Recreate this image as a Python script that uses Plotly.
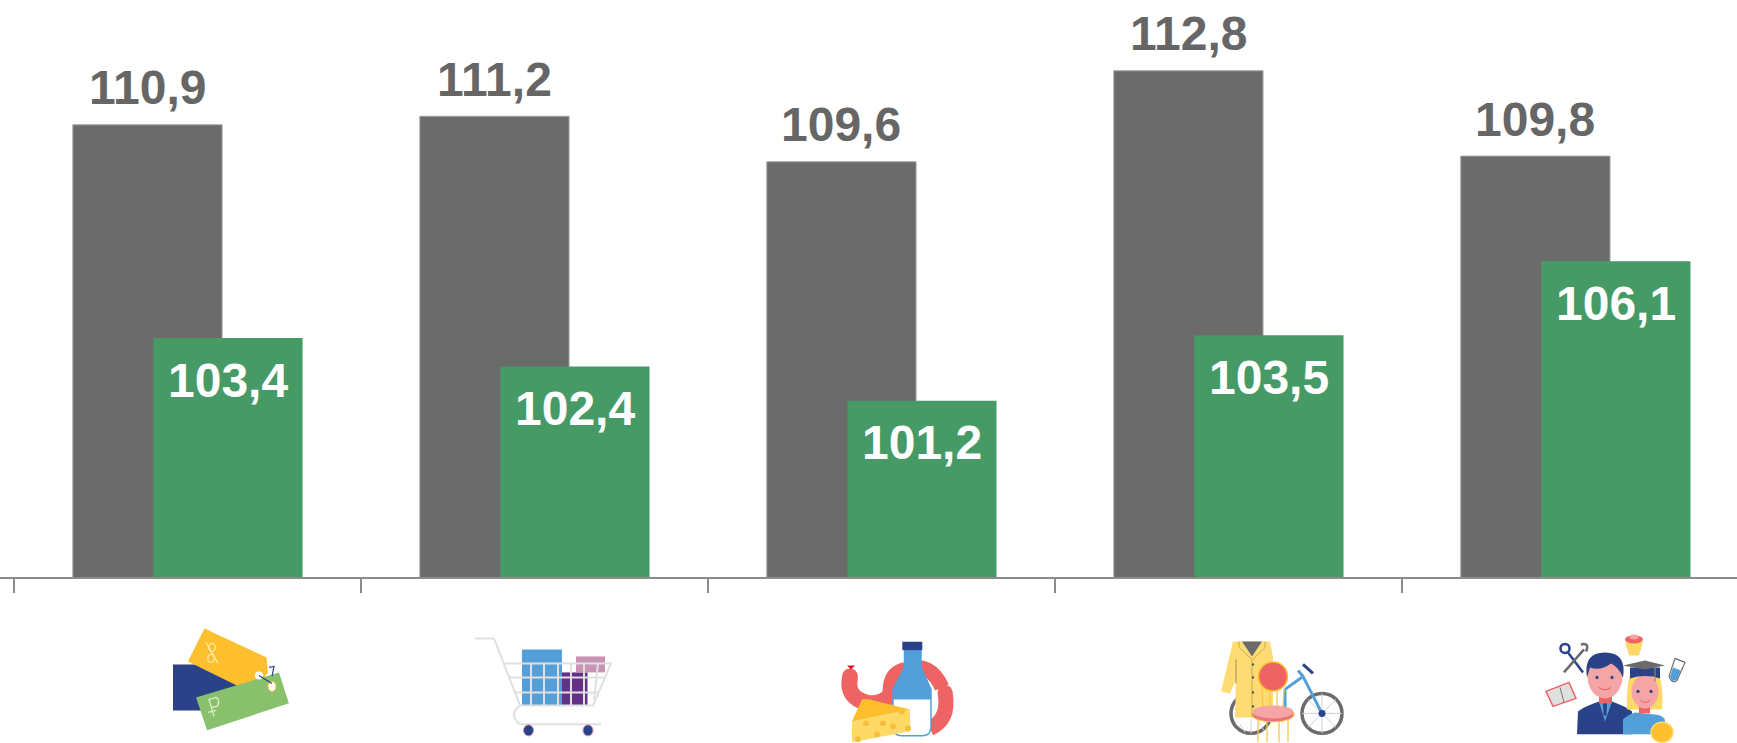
import plotly.graph_objects as go

# ---------- data ----------
categories = ["Всего", "Товары", "Продукты", "Непродовольственные", "Услуги"]
grey_values = [110.9, 111.2, 109.6, 112.8, 109.8]
green_values = [103.4, 102.4, 101.2, 103.5, 106.1]

# ---------- styling ----------
GREY = "#6B6B6B"
GREEN = "#459A66"
LABEL_GREY = "#666666"
W, H = 1737, 743
AXIS_Y = 577.5
FONT = "Liberation Sans, Arial, sans-serif"


def fmt(v):
    return f"{v:.1f}".replace(".", ",")


fig = go.Figure()
fig.add_bar(x=categories, y=grey_values, name="grey", offset=-0.33, width=0.43,
            marker=dict(color=GREY, line=dict(color="#A0A0A0", width=1)))
fig.add_bar(x=categories, y=green_values, name="green", offset=-0.098, width=0.43,
            marker=dict(color=GREEN, line=dict(width=0)))

for i, v in enumerate(grey_values):
    fig.add_annotation(x=i - 0.115, y=v, text=f"<b>{fmt(v)}</b>", showarrow=False, yshift=37,
                       font=dict(family=FONT, size=48, color=LABEL_GREY))
for i, v in enumerate(green_values):
    fig.add_annotation(x=i + 0.117, y=v, text=f"<b>{fmt(v)}</b>", showarrow=False, yshift=-42,
                       font=dict(family=FONT, size=48, color="white"))


# ---------- icon helpers: decorative pictograms, in window pixels ----------
def _x(x):
    return x / W


def _y(y):
    return (AXIS_Y - y) / AXIS_Y


shapes = []


def path(d, fill=None, line=None, width=0):
    out, idx = [], 0
    for tok in d.split():
        if tok.isalpha():
            out.append(tok)
        else:
            val = float(tok)
            out.append(f"{_x(val) if idx % 2 == 0 else _y(val):.5f}")
            idx += 1
    shapes.append(dict(type="path", xref="paper", yref="paper", path=" ".join(out),
                       fillcolor=fill or "rgba(0,0,0,0)",
                       line=dict(color=line or "rgba(0,0,0,0)", width=width)))


def oval(cx, cy, rx, ry, fill=None, line=None, width=0):
    shapes.append(dict(type="circle", xref="paper", yref="paper",
                       x0=_x(cx - rx), x1=_x(cx + rx), y0=_y(cy + ry), y1=_y(cy - ry),
                       fillcolor=fill or "rgba(0,0,0,0)",
                       line=dict(color=line or "rgba(0,0,0,0)", width=width)))


NAVY = "#2A4288"
BLUE = "#529FD9"
YEL = "#FDBF2D"
LYEL = "#FFDC73"
RED = "#EE6363"
PINK = "#F5A5A5"
LGREEN = "#88C06C"
LGREY = "#E0E0E0"
DGREY = "#6B6B6B"

# icon 1: price tags
path("M 173 665 L 241 665 L 241 711 L 173 711 Z", NAVY)
path("M 204.5 629 L 266.5 658 L 268 673 L 257 687 L 249 692 L 188 662 Z", YEL)
path("M 198 699 L 278 675 L 287 703 L 208 729 Z", LGREEN, LGREEN, 3)
oval(259, 676, 4, 4, "white")
oval(272, 687, 4, 5, "white", YEL, 1)
path("M 259 676 L 272 684 M 269 668 L 274 667 L 272 677", None, NAVY, 1.2)
path("M 206 643 L 218 664", None, "#FFE9A8", 1.3)
oval(212, 648, 3.2, 4, None, "#FFE9A8", 1.3)
oval(211, 659, 3.2, 4, None, "#FFE9A8", 1.3)
path("M 214 717 L 209 700 L 216 698 Q 221 701 217 707 L 211 708 M 208 713 L 216 711", None, "#DDEFD2", 1.3)

# icon 2: shopping cart
path("M 522 650 L 562 650 L 562 706 L 522 706 Z", BLUE)
path("M 562 673 L 587.5 673 L 587.5 706 L 562 706 Z", "#653088")
path("M 576 657 L 605 657 L 605 673 L 576 673 Z", "#C893B4")
path("M 475 639 L 494 639 L 520 706 L 593 706 L 611 664 L 504 664 "
     "M 510 678 L 605 678 M 516 693 L 599 693 "
     "M 531 664 L 531 706 M 544 664 L 544 706 M 558 664 L 558 706 "
     "M 571 664 L 571 706 M 584 664 L 584 706 M 598 664 L 594 700 "
     "M 520 706 Q 508 715 520 725 L 601 725", None, LGREY, 2)
oval(528.5, 731, 5, 5.5, NAVY, "#C893B4", 1)
oval(588, 731, 5, 5.5, NAVY, "#C893B4", 1)

# icon 3: sausage, milk, cheese
path("M 890 692 Q 890 672 907 670 Q 930 662 942 688", None, RED, 15)
path("M 945 693 Q 950 720 930 729", None, RED, 15)
oval(945, 693, 7.5, 7.5, RED)
path("M 850 678 Q 846 698 866 703 Q 878 706 888 698", None, RED, 16)
oval(850, 677, 8, 8, RED)
oval(888, 698, 8, 8, RED)
path("M 847 666 L 855 666 L 851 670 Z", "#E0102A")
path("M 904.5 650 L 921 650 L 921 668 L 931 690 L 931 728 Q 931 736.5 922 736.5 L 902 736.5 "
     "Q 893 736.5 893 728 L 893 690 L 904.5 668 Z", "white", BLUE, 1.5)
path("M 904.5 650 L 921 650 L 921 668 L 931 690 L 931 700 L 893 700 L 893 690 L 904.5 668 Z", BLUE)
path("M 902.3 642.3 L 922.3 642.3 L 922.3 650.7 L 902.3 650.7 Z", NAVY)
path("M 852 722 L 910 710 L 910 732 L 852 743 Z", "#FFD966")
path("M 862 700 Q 865 699 870 700 L 910 710 L 852 722 Z", YEL)
for cx, cy in [(866, 724), (883, 724), (893, 727), (877, 735), (902, 712), (858, 740), (908, 729)]:
    oval(cx, cy, 3, 3, "#F5BE3C")

# icon 4: coat, bicycle, chair
oval(1251, 714, 20, 20, None, DGREY, 3.5)
oval(1322, 714, 20, 20, None, DGREY, 3.5)
path("M 1322 694 L 1322 734 M 1302 714 L 1342 714 M 1308 700 L 1336 728 M 1336 700 L 1308 728", None, "#D0D0D0", 1)
path("M 1240 725 L 1245 733 M 1251 720 L 1251 734 M 1258 722 L 1264 731", None, "#D0D0D0", 1)
path("M 1233 642 L 1270 642 L 1273 658 L 1273 718 L 1235 718 L 1236 680 L 1230 694 L 1221 692 Z", LYEL)
path("M 1242 642 L 1262 642 L 1252 657 Z", DGREY)
path("M 1239 642 L 1239 648 L 1252 660 L 1252 718 M 1265 642 L 1265 648 L 1253 660", None, "#C9A94F", 1)
path("M 1236 660 L 1236 684", None, "#A89A60", 1.2)
for by in [665, 678, 693, 707]:
    oval(1253, by, 1.2, 1.2, "#555555")
path("M 1322 714 L 1303 677 L 1285 690 M 1285 690 L 1285 720 M 1303 677 L 1298 671", None, BLUE, 3)
path("M 1303 665 L 1313 674", None, NAVY, 3)
oval(1322, 714, 3.5, 3.5, NAVY)
path("M 1258 718 L 1258 743 M 1267 718 L 1267 743 M 1279 718 L 1279 743 M 1288 718 L 1288 743 "
     "M 1262 690 L 1263 708 M 1270 692 L 1270 708 M 1277 692 L 1277 708 M 1284 690 L 1283 708",
     None, "#F5C842", 1.3)
oval(1273, 677, 14.5, 14.5, RED, YEL, 1.5)
oval(1273, 715, 21, 7.5, "#E8767A", YEL, 1)
oval(1273, 712.5, 20.5, 6.5, PINK)

# icon 5: people and professions
path("M 1577 735 L 1578 712 Q 1582 708 1599 702 L 1612 702 Q 1628 708 1632 712 L 1632 735 Z", NAVY)
path("M 1599 702 L 1605 722 L 1612 702 Z", BLUE)
path("M 1603 703 L 1607 703 L 1606.5 716 L 1603.5 716 Z", NAVY)
path("M 1599 692 L 1612 692 L 1612 704 L 1599 704 Z", RED)
oval(1605, 677, 17.5, 22, PINK)
path("M 1587 678 Q 1583 653 1605 653 Q 1627 653 1623 678 Q 1619 668 1611 664 Q 1600 672 1590 668 Z", NAVY)
oval(1597, 678, 1.6, 1.6, NAVY)
oval(1612, 678, 1.6, 1.6, NAVY)
path("M 1599 688 Q 1605 693 1611 688", None, RED, 1.2)
path("M 1627 710 Q 1626 680 1633 670 L 1656 670 Q 1664 680 1662 710 Z", "#FFD966")
path("M 1623 735 L 1623 720 Q 1628 715 1635 713 L 1655 715 Q 1665 716 1665 722 L 1665 735 Z", BLUE)
path("M 1639 706 L 1650 706 L 1650 714 L 1639 714 Z", RED)
oval(1645, 692, 13.5, 17, PINK)
path("M 1630 668 L 1660 668 L 1660 679 Q 1645 674 1630 679 Z", NAVY)
path("M 1623 666 L 1645 661 L 1665 666 L 1645 670 Z", DGREY)
path("M 1655 668 L 1655 682", None, "#8A8A60", 1.2)
oval(1638, 692, 1.6, 1.6, NAVY)
oval(1651, 692, 1.6, 1.6, NAVY)
path("M 1640 701 Q 1645 705 1650 701", None, RED, 1.2)
oval(1662, 733, 11, 10, YEL, "#FFD966", 1.5)
path("M 1568 653 L 1583 673", None, NAVY, 2.5)
path("M 1584 650 L 1564 673", None, DGREY, 2.5)
oval(1565, 649, 4.5, 4.5, None, NAVY, 2.5)
path("M 1581 645 Q 1590 643 1586 652", None, DGREY, 2.5)
path("M 1625 642 L 1643 642 L 1639 656 L 1629 656 Z", "#FFD966")
oval(1634, 640, 9, 4, RED)
oval(1634, 637.5, 4.5, 2.5, PINK)
path("M 1675 659 L 1685 663 L 1677 681 Q 1672 685 1669 677 Z", "white", DGREY, 1.2)
path("M 1673 668 L 1681 671 L 1677 680 Q 1672 684 1670 677 Z", BLUE)
path("M 1546 692 L 1569 683 L 1576 699 L 1553 707 Z", LGREY, RED, 1.5)
path("M 1560 688 L 1564 703", None, "#777777", 1)

fig.update_layout(
    width=W, height=H,
    margin=dict(l=0, r=0, t=0, b=H - AXIS_Y),
    plot_bgcolor="white", paper_bgcolor="white",
    barmode="overlay", showlegend=False,
    font=dict(family=FONT),
    xaxis=dict(type="category", categoryorder="array", categoryarray=categories,
               range=[-0.54, 4.466], tickson="boundaries", ticks="outside", ticklen=14,
               tickcolor="#8C8C8C", tickwidth=1.5, showline=True, linecolor="#8C8C8C", linewidth=1.5,
               showticklabels=False, showgrid=False, zeroline=False, fixedrange=True),
    yaxis=dict(range=[95, 115.29], visible=False, fixedrange=True),
    shapes=shapes,
)

fig.write_html("out.html", config=dict(displayModeBar=False),
               post_script="document.body.style.margin='0';document.body.style.overflow='hidden';")
